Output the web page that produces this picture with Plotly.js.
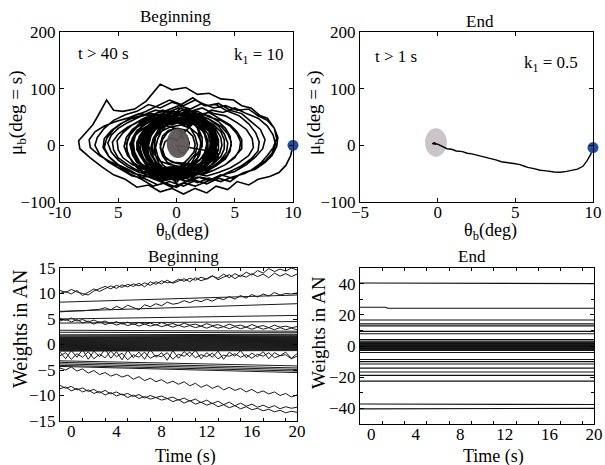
<!DOCTYPE html>
<html><head><meta charset="utf-8">
<script src="https://cdn.plot.ly/plotly-3.0.1.min.js"></script>
<style>html,body{margin:0;padding:0;background:#fff}</style>
</head><body><div id="chart" style="width:605px;height:465px"></div>
<script>
// ---------- DATA ----------
// Phase portrait "Beginning": [theta_b (deg), mu_b]
const beginPath = [
[10,0],[9.8,-18],[9.4,-35],[8.8,-48],[8.0,-55],[7.0,-60],[6.2,-70],[5.2,-64],[4.4,-78],[3.4,-72],[2.6,-84],[1.6,-76],[0.6,-86],[-0.4,-76],[-1.4,-82],[-2.4,-70],[-3.4,-74],[-4.4,-60],[-5.4,-52],[-6.4,-38],[-7.4,-22],[-8.3,-6],[-8.4,8],[-7.8,22],[-7.2,36],[-6.8,50],[-6.5,62],[-6.0,80],[-5.4,62],[-4.6,60],[-3.6,64],[-2.6,78],[-1.4,108],[-0.4,98],[0.8,102],[1.8,90],[2.8,92],[3.8,82],[4.9,80],[5.6,70],[6.4,66],[7.2,52],[7.8,48],[8.4,30],[8.6,12],[8.3,-4],
[7.8,-18],[7.2,-32],[6.4,-44],[5.4,-52],[4.6,-64],[3.6,-58],[2.6,-68],[1.6,-62],[0.6,-72],[-0.6,-64],[-1.6,-70],[-2.8,-58],[-3.8,-54],[-4.8,-42],[-5.8,-30],[-6.6,-16],[-7.0,0],[-6.8,14],[-6.2,30],[-5.4,44],[-4.4,54],[-3.4,60],[-2.4,72],[-1.4,66],[-0.4,76],[0.6,70],[1.6,80],[2.6,70],[3.6,74],[4.6,62],[5.6,56],[6.4,42],[7.2,28],[7.6,10],[7.4,-6],
[6.8,-20],[6.0,-34],[5.0,-46],[4.0,-52],[3.0,-60],[2.0,-56],[1.0,-64],[0.0,-58],[-1.0,-62],[-2.0,-54],[-3.0,-56],[-4.0,-44],[-5.0,-34],[-5.8,-20],[-6.3,-4],[-6.2,12],[-5.6,26],[-4.8,38],[-3.8,48],[-2.8,54],[-1.8,62],[-0.8,58],[0.2,66],[1.2,60],[2.2,66],[3.2,56],[4.2,52],[5.2,40],[6.0,28],[6.5,12],[6.6,-4],
[6.2,-18],[5.4,-30],[4.6,-40],[3.6,-48],[2.6,-54],[1.6,-50],[0.6,-58],[-0.4,-52],[-1.4,-58],[-2.4,-48],[-3.4,-44],[-4.2,-34],[-5.0,-22],[-5.4,-8],[-5.5,6],[-5.0,20],[-4.2,32],[-3.2,42],[-2.2,50],[-1.2,56],[-0.2,52],[0.8,60],[1.8,54],[2.8,58],[3.8,46],[4.6,36],[5.2,24],[5.6,10],[5.6,-6],
[5.0,-20],[4.2,-34],[3.2,-44],[2.2,-50],[1.2,-46],[0.2,-54],[-0.8,-48],[-1.8,-52],[-2.8,-42],[-3.8,-34],[-4.6,-22],[-5.0,-8],[-5.1,8],[-4.6,22],[-3.8,36],[-2.8,48],[-1.8,56],[-0.8,62],[0.2,70],[1.2,64],[2.2,74],[3.2,66],[4.2,70],[5.2,62],[6.2,64],[7.0,52],[7.8,44],[8.4,30],[8.7,14],[8.6,-2],[8.2,-18],[7.6,-30],[6.8,-42],[5.8,-48],[4.8,-58],[3.8,-52],[2.8,-62],[1.8,-56],[0.8,-64],[-0.2,-56],[-1.2,-62],[-2.2,-52],[-3.2,-48],[-4.2,-38],[-5.0,-26],[-5.6,-12],[-5.9,4],[-5.6,18],[-5.0,30],[-4.2,40],[-3.2,50],[-2.2,56],[-1.2,52],[-0.2,60],[0.8,54],[1.8,60],[2.8,50],[3.8,44],[4.6,34],[5.2,20],[5.5,6],[5.4,-8],
[5.0,-22],[4.2,-34],[3.2,-44],[2.2,-52],[1.2,-48],[0.2,-56],[-0.8,-50],[-1.8,-54],[-2.8,-42],[-3.6,-32],[-4.2,-18],[-4.5,-2],[-4.3,14],[-3.8,28],[-3.0,40],[-2.0,50],[-1.0,46],[0.0,56],[1.0,50],[2.0,54],[3.0,44],[3.8,34],[4.4,20],[4.7,6],[4.6,-10],
[4.2,-24],[3.4,-36],[2.4,-48],[1.4,-54],[0.4,-60],[-0.6,-56],[-1.6,-62],[-2.6,-54],[-3.6,-50],[-4.6,-40],[-5.6,-30],[-6.6,-18],[-7.4,-4],[-7.5,10],[-7.0,24],[-6.2,34],[-5.2,42],[-4.2,48],[-3.2,56],[-2.2,52],[-1.2,62],[-0.2,56],[0.8,64],[1.8,56],[2.8,52],[3.6,42],[4.2,30],[4.6,16],[4.7,0],
[4.4,-16],[3.8,-28],[3.0,-38],[2.0,-46],[1.0,-42],[0.0,-50],[-1.0,-44],[-2.0,-48],[-2.8,-38],[-3.4,-26],[-3.8,-12],[-3.9,2],[-3.6,16],[-3.0,28],[-2.2,38],[-1.2,44],[-0.2,40],[0.8,48],[1.8,42],[2.8,40],[3.4,28],[3.8,14],[3.9,0],
[3.7,-14],[3.2,-26],[2.4,-36],[1.4,-42],[0.4,-38],[-0.6,-46],[-1.6,-40],[-2.4,-34],[-3.0,-22],[-3.4,-8],[-3.4,6],[-3.0,20],[-2.4,32],[-1.4,40],[-0.4,36],[0.6,44],[1.6,38],[2.4,34],[3.0,22],[3.4,8],[3.4,-6],
[3.6,-20],[3.0,-34],[2.0,-48],[1.0,-62],[0.0,-74],[-1.0,-66],[-2.0,-72],[-3.0,-60],[-4.0,-50],[-5.0,-36],[-5.8,-20],[-6.2,-4],[-6.0,12],[-5.4,28],[-4.6,40],[-3.6,52],[-2.6,60],[-1.6,70],[-0.6,80],[0.4,72],[1.4,84],[2.4,70],[3.4,72],[4.4,60],[5.4,52],[6.2,38],[6.8,22],[7.1,6],[7.0,-10],[6.4,-24],[5.6,-36],[4.6,-46],[3.6,-56],[2.6,-64],[1.6,-72],[0.6,-66],[-0.4,-74],[-1.4,-64],[-2.4,-56],[-3.2,-44],[-3.8,-30],[-4.2,-14],[-4.3,2],
[-4.0,18],[-3.4,32],[-2.6,42],[-1.6,50],[-0.6,46],[0.4,54],[1.4,46],[2.4,44],[3.0,32],[3.4,18],[3.5,2],[3.2,-14],[2.6,-28],[1.8,-38],[0.8,-46],[-0.2,-42],[-1.2,-48],[-2.2,-40],[-2.8,-28],[-3.2,-14],[-3.3,0],[-3.0,14],[-2.4,26],[-1.6,36],[-0.6,42],[0.4,38],[1.4,44],[2.2,36],[2.8,24],[3.1,10],[3.0,-4],
[2.7,-18],[2.2,-30],[1.4,-38],[0.4,-44],[-0.6,-40],[-1.6,-44],[-2.2,-32],[-2.7,-18],[-2.9,-2],[-2.7,14],[-2.2,28],[-1.4,38],[-0.4,44],[0.6,40],[1.6,46],[2.2,34],[2.7,20],[2.9,4],[2.8,-12],
[2.4,-28],[1.8,-40],[1.0,-52],[0.0,-60],[-1.0,-54],[-1.8,-58],[-2.4,-44],[-2.8,-28],[-3.1,-12],[-3.1,4],[-2.8,20],[-2.2,34],[-1.4,46],[-0.4,56],[0.6,50],[1.6,58],[2.4,44],[2.9,28],[3.2,12],[3.2,-4],
[3.0,-20],[2.4,-30],[1.6,-38],[0.6,-42],[-0.4,-38],[-1.4,-40],[-2.0,-30],[-2.4,-16],[-2.5,0],[-2.3,14],[-1.8,28],[-1.0,36],[0.0,40],[1.0,36],[1.8,38],[2.3,26],[2.6,12],[2.6,-4],
[2.4,-20],[2.0,-34],[1.2,-46],[0.2,-54],[-0.8,-48],[-1.8,-52],[-2.6,-40],[-3.4,-30],[-3.8,-16],[-3.9,-2],[-3.8,12],[-3.4,26],[-2.6,38],[-1.6,48],[-0.6,52],[0.4,48],[1.4,54],[2.4,46],[3.2,36],[3.8,24],[4.1,10],[4.1,-6],[3.8,-20],[3.2,-32],[2.4,-42],[1.4,-50],[0.4,-46],[-0.6,-52],[-1.6,-44],[-2.4,-34],[-3.0,-20],[-3.3,-6],[-3.3,8],[-3.0,22],[-2.4,34],[-1.6,42],[-0.6,48],[0.4,44],[1.4,50],[2.2,40],[2.8,28],[3.2,14],[3.3,-2],
[3.0,-16],[2.4,-28],[1.6,-40],[0.6,-50],[-0.4,-46],[-1.4,-50],[-2.0,-36],[-2.4,-20],[-2.6,-4],[-2.4,12],[-2.0,26],[-1.4,38],[-0.4,48],[0.6,42],[1.6,48],[2.2,34],[2.5,18],[2.6,2],[2.4,-14],
[2.0,-26],[1.4,-34],[0.4,-38],[-0.6,-34],[-1.4,-28],[-1.9,-16],[-2.1,-2],[-1.9,12],[-1.4,24],[-0.6,32],[0.4,36],[1.2,30],[1.8,20],[2.1,6],[2.0,-8],
[1.8,-22],[1.2,-36],[0.6,-52],[0.0,-66],[-0.6,-56],[-1.2,-64],[-1.8,-50],[-2.4,-40],[-2.9,-24],[-3.1,-8],[-3.0,8],[-2.6,24],[-2.0,38],[-1.4,52],[-0.8,62],[-0.2,56],[0.4,66],[1.0,54],[1.6,60],[2.2,46],[2.7,30],[3.0,14],[3.1,-2],
[2.8,-18],[2.2,-30],[1.4,-40],[0.6,-46],[-0.2,-42],[-1.0,-44],[-1.5,-32],[-1.8,-18],[-1.9,-2],[-1.8,14],[-1.4,28],[-0.8,38],[0.0,44],[0.8,40],[1.4,42],[1.8,30],[2.0,16],[2.1,0],
[2.0,-16],[1.6,-30],[1.0,-42],[0.2,-52],[-0.6,-46],[-1.4,-50],[-2.0,-38],[-2.4,-24],[-2.7,-8],[-2.7,8],[-2.4,24],[-1.8,36],[-1.0,46],[-0.2,52],[0.6,46],[1.4,50],[2.0,38],[2.4,24],[2.7,8],[2.6,-8],
[2.4,-24],[1.8,-38],[1.0,-50],[0.0,-58],[-1.0,-52],[-2.0,-54],[-2.8,-42],[-3.4,-28],[-3.7,-12],[-3.8,4],[-3.5,20],[-2.9,34],[-2.1,46],[-1.1,54],[-0.1,50],[0.9,58],[1.9,50],[2.7,40],[3.3,26],[3.6,10],[3.6,-6],
[3.2,-20],[2.6,-30],[1.8,-34],[0.8,-32],[-0.2,-30],[-0.9,-24],[-1.3,-12],[-1.4,2],[-1.2,16],[-0.7,26],[0.1,30],[0.9,26],[1.4,16],[1.6,2],[1.5,-12],
[1.0,-24],[0.4,-36],[-0.4,-44],[-1.2,-40],[-1.8,-30],[-2.2,-16],[-2.4,0],[-2.2,16],[-1.8,30],[-1.0,40],[-0.2,46],[0.6,40],[1.4,46],[2.0,34],[2.4,20],[2.6,4],[2.5,-12],[2.0,-26],[1.4,-36],[0.6,-44],[-0.2,-40],[-1.0,-46],[-1.6,-34],[-2.0,-20],[-2.2,-4],[-2.0,12],[-1.6,26],[-0.9,36],[-0.1,42],[0.7,36],[1.4,40],[1.9,28],[2.2,14],[2.2,-2],
[1.6,-20],[1.2,-34],[0.6,-46],[0.0,-50],[-0.6,-44],[-1.2,-34],[-1.6,-20],[-1.8,-4],[-1.6,12],[-1.2,28],[-0.6,40],[0.0,48],[0.6,42],[1.2,30],[1.6,16],[1.8,0],[1.6,-16],[1.0,-30],[0.4,-40],[-0.2,-36],[-0.8,-30],[-1.2,-18],[-1.4,-4],[-1.2,10],[-0.8,22],[-0.2,30],[0.4,26],[0.9,16],[1.1,4],[1.0,-6],[0.6,-14],[0.2,-10],[0.0,0],
[2.8,-10],[2.4,-28],[1.6,-42],[0.6,-50],[-0.4,-46],[-1.4,-52],[-2.2,-40],[-2.8,-26],[-3.2,-10],[-3.3,6],[-3.0,22],[-2.4,36],[-1.6,46],[-0.6,52],[0.4,48],[1.4,54],[2.2,42],[2.8,28],[3.2,12],[3.3,-4],
[3.0,-20],[2.4,-34],[1.6,-44],[0.6,-48],[-0.4,-44],[-1.4,-48],[-2.2,-38],[-2.8,-24],[-3.1,-8],[-3.1,8],[-2.8,24],[-2.2,36],[-1.4,44],[-0.4,50],[0.6,46],[1.6,50],[2.4,40],[3.0,26],[3.4,10],[3.4,-6],
[3.1,-22],[2.6,-36],[1.8,-48],[0.8,-54],[-0.2,-50],[-1.2,-56],[-2.0,-46],[-2.7,-32],[-3.2,-16],[-3.4,0],[-3.2,16],[-2.7,30],[-2.0,42],[-1.0,50],[0.0,46],[1.0,52],[1.9,44],[2.6,32],[3.0,18],[3.2,2],
[3.0,-14],[2.5,-28],[1.8,-40],[0.9,-46],[-0.1,-42],[-1.1,-46],[-1.9,-36],[-2.5,-22],[-2.8,-6],[-2.8,10],[-2.5,24],[-1.9,36],[-1.1,44],[-0.1,48],[0.9,42],[1.9,46],[2.5,34],[2.9,20],[3.1,4],[3.0,-12],
[2.8,-30],[2.2,-44],[1.4,-54],[0.4,-60],[-0.6,-56],[-1.6,-60],[-2.6,-50],[-3.4,-38],[-4.0,-22],[-4.3,-6],[-4.2,10],[-3.8,26],[-3.1,40],[-2.2,50],[-1.2,56],[-0.2,52],[0.8,58],[1.8,52],[2.8,46],[3.6,34],[4.1,20],[4.4,4],[4.3,-12],
[3.8,-26],[3.1,-38],[2.2,-46],[1.2,-50],[0.2,-46],[-0.8,-52],[-1.8,-42],[-2.6,-30],[-3.1,-14],[-3.3,2],[-3.1,18],[-2.6,32],[-1.8,42],[-0.8,48],[0.2,44],[1.2,50],[2.1,42],[2.8,30],[3.2,16],[3.4,0],
[3.2,-16],[2.7,-30],[2.0,-42],[1.0,-50],[0.0,-54],[-1.0,-48],[-1.8,-40],[-2.4,-26],[-2.7,-10],[-2.8,6],[-2.6,22],[-2.1,34],[-1.3,44],[-0.3,48],[0.7,44],[1.6,48],[2.3,38],[2.8,24],[3.0,8],[2.9,-8],
[2.5,-22],[1.9,-34],[1.1,-42],[0.1,-46],[-0.9,-42],[-1.7,-36],[-2.3,-24],[-2.6,-8],[-2.6,8],[-2.3,22],[-1.8,34],[-1.0,42],[0.0,46],[1.0,42],[1.8,34],[2.4,22],[2.7,8],[2.7,-8],
[2.4,-24],[1.9,-38],[1.2,-50],[0.2,-56],[-0.8,-50],[-1.8,-54],[-2.6,-42],[-3.2,-28],[-3.6,-12],[-3.7,4],[-3.5,20],[-3.0,34],[-2.2,46],[-1.2,54],[-0.2,50],[0.8,56],[1.8,48],[2.6,38],[3.2,24],[3.6,8],[3.6,-8],
[3.2,-24],[2.6,-36],[1.8,-44],[0.8,-48],[-0.2,-44],[-1.2,-48],[-2.0,-38],[-2.6,-24],[-2.9,-8],[-2.9,8],[-2.6,24],[-2.0,36],[-1.2,44],[-0.2,48],[0.8,44],[1.8,48],[2.6,38],[3.0,24],[3.2,8],[3.0,-8],[2.4,-20],[1.6,-30],[0.6,-34],[-0.4,-30],[-1.0,-20],[-1.2,-8],[-1.0,6],[-0.5,14],[0.0,8],
[1.0,30],[2.0,50],[3.0,62],[4.0,58],[5.0,66],[6.0,56],[7.0,48],[7.8,34],[8.3,18],[8.5,2],[8.2,-14],[7.6,-28],[6.8,-40],[5.8,-50],[4.8,-56],[3.8,-64],[2.8,-58],[1.8,-66],[0.8,-58],[-0.2,-62],[-1.2,-52],[-2.2,-44],[-3.2,-30],[-3.8,-14],[-4.0,2],[-3.6,18],[-2.8,30],[-1.8,38],[-0.8,34],[0.2,28],[0.6,10]
];
// Phase portrait "End"
const endPath = [
[10,-4],[9.85,-16],[9.6,-28],[9.35,-37],[9.0,-42],[8.7,-44],[8.3,-46],[7.9,-47.5],[7.5,-47],[7.0,-45],[6.6,-44],[6.2,-41],[5.8,-39],[5.5,-36],[5.3,-34],[4.9,-32],[4.4,-30],[4.1,-29],[3.8,-26],[3.5,-24],[3.2,-21],[2.9,-20],[2.6,-17],[2.2,-15],[1.9,-14],[1.6,-11],[1.2,-10],[0.9,-7],[0.6,-6],[0.4,-3],[0.2,-1],[0.0,2],[-0.15,3],[-0.3,4],[-0.1,2],[-0.35,3],[-0.15,5],[-0.3,3.5],[-0.2,4.5]
];
const beginDot = [10, 0];
const endDot = [10, -4];
// grey core ellipses: [centre theta, centre mu, half-width, half-height]
const beginCore = [0.13, 3.5, 0.97, 26];
const endCore = [-0.11, 5, 0.7, 25];

// Weights "Beginning"
const timeB = [-1,-0.5,0,0.5,1,1.5,2,2.5,3,3.5,4,4.5,5,5.5,6,6.5,7,7.5,8,8.5,9,9.5,10,10.5,11,11.5,12,12.5,13,13.5,14,14.5,15,15.5,16,16.5,17,17.5,18,18.5,19,19.5,20];
const wJag1 = [10.6,10.2,10.8,10.3,10.0,9.7,10.5,10.9,11.4,10.9,11.6,11.2,11.8,11.4,12.0,11.3,12.3,11.8,12.5,12.1,12.2,12.8,12.4,13.0,12.6,13.2,12.8,13.4,13.0,13.8,13.1,13.9,13.3,14.2,13.6,14.5,14.0,14.9,14.3,14.8,14.4,15.0,14.6];
const wJag2 = [10.0,10.4,9.9,10.6,9.6,10.2,10.9,10.4,11.0,11.5,11.0,11.7,11.3,11.9,11.5,12.1,11.6,12.3,11.9,12.6,12.0,12.4,12.9,12.3,13.1,12.5,12.9,13.5,12.7,13.2,13.7,12.9,13.6,13.2,13.9,13.3,13.8,13.1,14.0,13.4,13.9,13.3,13.8];
const wJag3 = [6.4,6.5,6.5,6.6,6.6,6.7,6.7,6.9,7.2,6.8,7.5,7.0,7.7,7.2,6.8,7.8,7.4,8.0,7.6,8.3,7.9,8.1,8.6,8.2,8.7,8.4,8.9,8.5,9.1,8.8,9.4,8.9,9.6,9.1,9.8,9.3,9.9,9.5,10.2,9.7,10.0,9.9,10.1];
const wJag4 = [5.1,4.7,5.2,4.6,4.9,4.4,4.8,4.3,4.6,4.1,4.5,4.0,4.4,3.9,4.3,4.0,4.2,3.8,4.3,3.9,4.1,3.7,4.2,3.8,4.0,3.6,4.1,3.7,3.9,3.5,4.0,3.6,3.8,3.4,3.9,3.5,3.7,3.3,3.8,3.4,3.6,3.3,3.5];
const wJag5 = [4.6,5.0,4.4,4.9,4.2,4.6,4.0,4.5,3.9,4.3,3.8,4.2,3.7,4.1,3.6,4.0,3.6,3.9,3.5,3.8,3.4,3.8,3.4,3.7,3.3,3.6,3.2,3.6,3.2,3.5,3.1,3.5,3.1,3.4,3.0,3.4,3.0,3.3,2.9,3.3,2.9,3.2,2.9];
const wJag6 = [-1.5,-2.8,-1.2,-2.5,-1.0,-2.9,-1.3,-2.4,-0.9,-2.7,-1.4,-3.0,-1.1,-2.6,-1.5,-2.9,-1.0,-2.5,-1.6,-3.1,-1.2,-2.7,-1.4,-2.4,-1.1,-2.8,-1.6,-2.5,-1.3,-2.9,-1.5,-2.3,-1.2,-2.6,-1.7,-2.4,-1.4,-2.8,-1.6,-2.2,-1.5,-2.7,-1.8];
const wJag7 = [-2.2,-1.6,-2.9,-1.8,-2.5,-1.4,-2.8,-1.9,-2.6,-1.3,-2.4,-1.7,-3.0,-2.0,-2.5,-1.5,-2.7,-2.1,-2.4,-1.6,-2.9,-1.9,-2.3,-1.5,-2.6,-2.0,-2.4,-1.7,-2.8,-2.1,-2.3,-1.8,-2.5,-2.0,-2.7,-1.9,-2.3,-1.6,-2.6,-2.2,-2.0,-2.8,-2.3];
const wJag8 = [-4.6,-5.0,-4.4,-5.2,-4.8,-5.6,-5.1,-5.9,-5.5,-6.2,-5.8,-6.4,-6.0,-6.8,-6.3,-7.1,-6.6,-7.3,-6.9,-7.6,-7.2,-7.8,-7.3,-8.1,-7.6,-8.4,-7.9,-8.6,-8.1,-8.9,-8.4,-9.0,-8.6,-9.3,-8.8,-9.5,-9.1,-9.7,-9.3,-10.0,-9.6,-10.3,-9.9];
const wJag9 = [-8.0,-8.6,-8.2,-8.9,-8.5,-9.2,-8.8,-9.5,-9.0,-9.7,-9.3,-9.9,-9.6,-10.2,-9.8,-10.5,-10.0,-10.4,-10.1,-10.6,-10.3,-10.9,-10.5,-11.1,-10.7,-11.4,-10.9,-11.6,-11.1,-11.8,-11.3,-12.0,-11.5,-12.1,-11.7,-12.3,-11.9,-12.4,-12.0,-12.6,-12.2,-12.5,-12.3];
const wJag10 = [-8.7,-8.3,-9.1,-8.6,-9.3,-8.9,-9.6,-9.2,-9.9,-9.4,-10.1,-9.7,-10.4,-9.9,-10.6,-10.2,-10.7,-10.4,-10.9,-10.6,-11.2,-10.8,-11.5,-11.0,-11.7,-11.3,-11.9,-11.5,-12.2,-11.8,-12.4,-12.0,-12.6,-12.2,-12.8,-12.5,-13.0,-12.7,-13.2,-12.9,-13.4,-13.1,-13.3];
// slowly drifting weights: value at t=-1 and at t=20
const flatTimes = [-1, 20];
const beginFlatStart = [8.3, 6.5, 5.0, 4.2, 2.8, 2.4, 1.9, 1.7, 1.5, 1.4, 1.3, 1.2, 1.1, 1.0, 0.9, 0.8, 0.7, 0.6, 0.5, 0.4, 0.3, 0.2, 0.1, 0.0, -0.1, -0.2, -0.3, -0.4, -0.5, -0.6, -0.7, -0.8, -0.9, -1.0, -1.1, -1.2, -1.3, -3.2, -3.5, -3.8, -4.1, -4.3];
const beginFlatEnd   = [9.7, 8.0, 5.7, 4.5, 2.6, 2.3, 2.0, 1.8, 1.6, 1.5, 1.4, 1.3, 1.2, 1.1, 1.0, 0.9, 0.8, 0.7, 0.6, 0.5, 0.4, 0.3, 0.2, 0.1, 0.0, -0.1, -0.2, -0.3, -0.4, -0.5, -0.6, -0.7, -0.8, -0.9, -1.0, -1.1, -1.2, -4.2, -4.6, -4.9, -5.2, -5.5];

// Weights "End": value before and after the early step
const stepTimes = [-1, 1.3, 1.5, 20];
const endFlatStart = [40.4, 24.8, 16.7, 14.2, 12.9, 9.4, 7.9, 4.2, 3.1, 2.4, 2.0, 1.6, 1.2, 0.8, 0.4, 0.0, -0.4, -0.8, -1.2, -1.6, -2.0, -2.4, -2.8, -4.2, -8.7, -10.0, -11.5, -14.2, -16.7, -18.8, -22.5, -37.2, -40.3];
const endFlatEnd   = [40.0, 24.2, 16.7, 14.2, 12.9, 9.4, 7.9, 4.2, 3.1, 2.4, 2.0, 1.6, 1.2, 0.8, 0.4, 0.0, -0.4, -0.8, -1.2, -1.6, -2.0, -2.4, -2.8, -4.2, -8.7, -10.0, -11.5, -14.2, -16.7, -18.8, -22.5, -37.5, -40.0];

// ticks
const tlTickVals = [-10, -5, 0, 5, 10];
const tlTickText = ['-10', '5', '0', '5', '10'];
const trTickVals = [-5, 0, 5, 10];
const muTickVals = [-100, 0, 100, 200];
const timeTickVals = [0, 4, 8, 12, 16, 20];
const timeMinorVals = [1, 3, 5, 7, 9, 11, 13, 15, 17, 19];
const wBTickVals = [-15, -10, -5, 0, 5, 10, 15];
const wETickVals = [-40, -20, 0, 20, 40];
const wEMinorVals = [-30, -10, 10, 30];

// ---------- CHART ----------
const FONT = 'Liberation Serif';
const W = 605, H = 465;
const px = x => x / W, py = y => 1 - y / H;

const traces = [];
const blk = '#000';
traces.push({x: beginPath.map(p => p[0]), y: beginPath.map(p => p[1]), mode: 'lines', line: {color: blk, width: 1.6}, xaxis: 'x', yaxis: 'y'});
traces.push({x: [beginDot[0]], y: [beginDot[1]], mode: 'markers', marker: {size: 11, color: '#1f4fa2'}, cliponaxis: false, xaxis: 'x', yaxis: 'y'});
traces.push({x: endPath.map(p => p[0]), y: endPath.map(p => p[1]), mode: 'lines', line: {color: blk, width: 1.4}, xaxis: 'x2', yaxis: 'y2'});
traces.push({x: [endDot[0]], y: [endDot[1]], mode: 'markers', marker: {size: 11, color: '#1f4fa2'}, cliponaxis: false, xaxis: 'x2', yaxis: 'y2'});

[wJag1, wJag2, wJag3, wJag4, wJag5, wJag6, wJag7, wJag8, wJag9, wJag10].forEach(s => {
  traces.push({x: timeB, y: s, mode: 'lines', line: {color: '#1a1a1a', width: 1}, xaxis: 'x3', yaxis: 'y3'});
});
beginFlatStart.forEach((v, i) => {
  traces.push({x: flatTimes, y: [v, beginFlatEnd[i]], mode: 'lines', line: {color: '#1a1a1a', width: 1}, xaxis: 'x3', yaxis: 'y3'});
});
endFlatStart.forEach((v, i) => {
  traces.push({x: stepTimes, y: [v, v, endFlatEnd[i], endFlatEnd[i]], mode: 'lines', line: {color: '#111', width: 1.1}, xaxis: 'x4', yaxis: 'y4'});
});
traces.forEach(t => { t.showlegend = false; t.hoverinfo = 'skip'; });

function ax(domain, range, anchor, extra) {
  return Object.assign({
    domain, range, anchor, showline: true, linecolor: '#000', linewidth: 1, mirror: 'ticks',
    ticks: 'inside', ticklen: 4, tickcolor: '#000', showgrid: false, zeroline: false,
    tickfont: {family: FONT, size: 17, color: '#000'}, fixedrange: true
  }, extra);
}
const minorX = {tickvals: timeMinorVals, ticks: 'inside', ticklen: 3, tickcolor: '#000', showgrid: false};
const f17 = {family: FONT, size: 17, color: '#000'};

const layout = {
  width: W, height: H, margin: {l: 0, r: 0, t: 0, b: 0},
  paper_bgcolor: '#fff', plot_bgcolor: '#fff', showlegend: false,
  font: {family: FONT, color: '#000'},
  xaxis:  ax([px(60), px(293)], [-10, 10], 'y', {tickvals: tlTickVals, ticktext: tlTickText, ticklabelstandoff: -5}),
  yaxis:  ax([py(202), py(32)], [-100, 200], 'x', {tickvals: muTickVals}),
  xaxis2: ax([px(360), px(593)], [-5, 10], 'y2', {tickvals: trTickVals, ticklabelstandoff: -5}),
  yaxis2: ax([py(202), py(32)], [-100, 200], 'x2', {tickvals: muTickVals}),
  xaxis3: ax([px(60), px(297)], [-1, 20], 'y3', {tickvals: timeTickVals, ticklen: 0, minor: minorX, tickfont: f17, ticklabelstandoff: -5}),
  yaxis3: ax([py(421), py(268)], [-15, 15], 'x3', {tickvals: wBTickVals, tickfont: f17}),
  xaxis4: ax([px(360), px(594)], [-1, 20], 'y4', {tickvals: timeTickVals, ticklen: 0, minor: minorX, tickfont: f17, ticklabelstandoff: -5}),
  yaxis4: ax([py(424), py(268)], [-50, 50], 'x4', {tickvals: wETickVals, minor: {tickvals: wEMinorVals, ticks: 'inside', ticklen: 3, tickcolor: '#000'}, tickfont: f17}),
  shapes: [
    {type: 'circle', xref: 'x', yref: 'y', x0: beginCore[0] - beginCore[2], x1: beginCore[0] + beginCore[2], y0: beginCore[1] - beginCore[3], y1: beginCore[1] + beginCore[3], fillcolor: '#5d5555', opacity: 0.95, line: {width: 0}, layer: 'above'},
    {type: 'circle', xref: 'x2', yref: 'y2', x0: endCore[0] - endCore[2], x1: endCore[0] + endCore[2], y0: endCore[1] - endCore[3], y1: endCore[1] + endCore[3], fillcolor: '#cbc5c9', line: {width: 0}, layer: 'below'}
  ],
  annotations: []
};
function ann(text, x, y, size, angle) {
  layout.annotations.push({text, xref: 'paper', yref: 'paper', x: px(x), y: py(y), xanchor: 'center', yanchor: 'middle',
    showarrow: false, textangle: angle || 0, font: {family: FONT, size, color: '#000'}});
}
ann('Beginning', 175, 16, 17);
ann('End', 480, 21, 17);
ann('t &gt; 40 s', 103, 54, 17);
ann('k<sub>1</sub> = 10', 259, 56, 17);
ann('t &gt; 1 s', 396, 56, 17);
ann('k<sub>1</sub> = 0.5', 551, 64, 17);
ann('θ<sub>b</sub>(deg)', 182, 231, 18);
ann('θ<sub>b</sub>(deg)', 490, 231, 18);
ann('μ<sub>b</sub>(deg = s)', 17, 113, 19, -90);
ann('μ<sub>b</sub>(deg = s)', 315, 113, 19, -90);
ann('Beginning', 183, 256, 17);
ann('End', 472, 256, 17);
ann('Weights in AN', 20, 329, 20, -90);
ann('Weights in AN', 318, 333, 19, -90);
ann('Time (s)', 185, 456, 18);
ann('Time (s)', 493, 456, 18);

Plotly.newPlot('chart', traces, layout, {staticPlot: true, displayModeBar: false});
</script>
</body></html>
